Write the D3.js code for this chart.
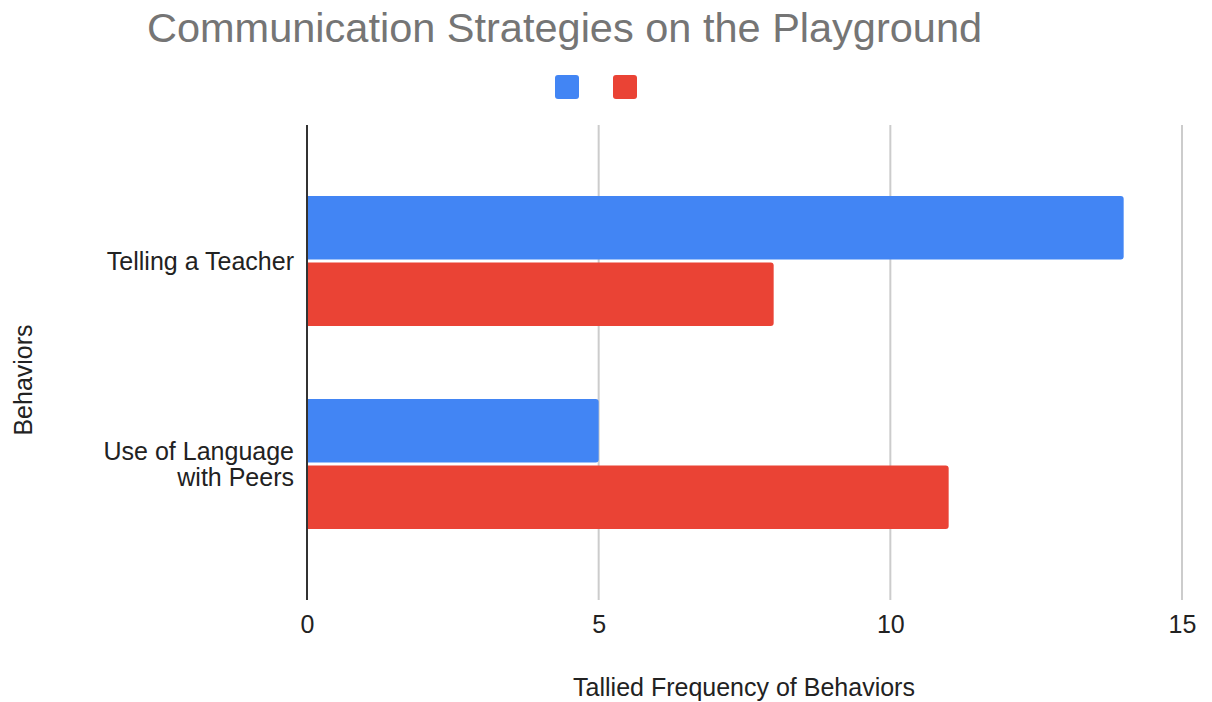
<!DOCTYPE html>
<html>
<head>
<meta charset="utf-8">
<script src="https://cdn.jsdelivr.net/npm/d3@7"></script>
<style>
html,body{margin:0;padding:0;background:#fff;}
svg{display:block;}
</style>
</head>
<body>
<svg id="chart" width="1212" height="702"></svg>
<script>
const categories = ["Telling a Teacher", "Use of Language with Peers"];
const categoryLines = [["Telling a Teacher"], ["Use of Language", "with Peers"]];
const seriesNames = ["", ""];
const seriesColors = ["#4285F4", "#EA4335"];
const seriesA = [14, 5];
const seriesB = [8, 11];
const xTicks = [0, 5, 10, 15];

const svg = d3.select("#chart");
const font = "'Liberation Sans', Arial, sans-serif";

const x = d3.scaleLinear().domain([0, 15]).range([307, 1182]);
const y = d3.scaleBand().domain(categories).range([125, 600]).paddingInner(0.36).paddingOuter(0.35);
const sub = d3.scaleBand().domain([0, 1]).range([0, y.bandwidth()]).paddingInner(0.047);

// title
svg.append("text").attr("x", 147).attr("y", 42)
  .attr("font-family", font).attr("font-size", 41.5).attr("fill", "#757575")
  .text("Communication Strategies on the Playground");

// legend
[555, 613].forEach((lx, i) => {
  svg.append("rect").attr("x", lx).attr("y", 75).attr("width", 24).attr("height", 24)
    .attr("rx", 3).attr("fill", seriesColors[i]);
  svg.append("text").attr("x", lx + 30).attr("y", 94).attr("font-family", font)
    .attr("font-size", 18).attr("fill", "#222").text(seriesNames[i]);
});

// gridlines
const gx = svg.append("g");
xTicks.filter(t => t !== 0).forEach(t => {
  gx.append("line").attr("x1", x(t)).attr("x2", x(t)).attr("y1", 125).attr("y2", 600)
    .attr("stroke", "#cccccc").attr("stroke-width", 2);
});

// bars
function barPath(x0, y0, w, h, r) {
  r = Math.min(r, w);
  return `M${x0},${y0}H${x0 + w - r}Q${x0 + w},${y0} ${x0 + w},${y0 + r}V${y0 + h - r}Q${x0 + w},${y0 + h} ${x0 + w - r},${y0 + h}H${x0}Z`;
}
[seriesA, seriesB].forEach((vals, si) => {
  svg.append("g").selectAll("path").data(categories).join("path")
    .attr("d", (c, i) => barPath(x(0), y(c) + sub(si), x(vals[i]) - x(0), sub.bandwidth(), 3))
    .attr("fill", seriesColors[si]);
});

// zero axis
svg.append("line").attr("x1", x(0)).attr("x2", x(0)).attr("y1", 125).attr("y2", 600)
  .attr("stroke", "#333").attr("stroke-width", 2);

// x tick labels
const xAxis = d3.axisBottom(x).tickValues(xTicks).tickSize(0).tickPadding(0);
const xa = svg.append("g").attr("transform", "translate(0,633)").call(xAxis);
xa.select(".domain").remove();
xa.selectAll("text").attr("font-family", font).attr("font-size", 25).attr("fill", "#222").attr("dy", 0);

// y category labels
const ya = svg.append("g");
categories.forEach((c, i) => {
  const lines = categoryLines[i];
  const cy = y(c) + y.bandwidth() / 2;
  const lh = 26;
  const t = ya.append("text").attr("text-anchor", "end").attr("font-family", font)
    .attr("font-size", 25).attr("fill", "#222");
  lines.forEach((ln, k) => {
    t.append("tspan").attr("x", 294)
      .attr("y", cy + 9 + (k - (lines.length - 1) / 2) * lh).text(ln);
  });
});

// axis titles
svg.append("text").attr("x", 744).attr("y", 696).attr("text-anchor", "middle")
  .attr("font-family", font).attr("font-size", 25).attr("fill", "#222")
  .text("Tallied Frequency of Behaviors");
svg.append("text").attr("transform", "translate(32,380) rotate(-90)").attr("text-anchor", "middle")
  .attr("font-family", font).attr("font-size", 25).attr("fill", "#222")
  .text("Behaviors");
</script>
</body>
</html>
